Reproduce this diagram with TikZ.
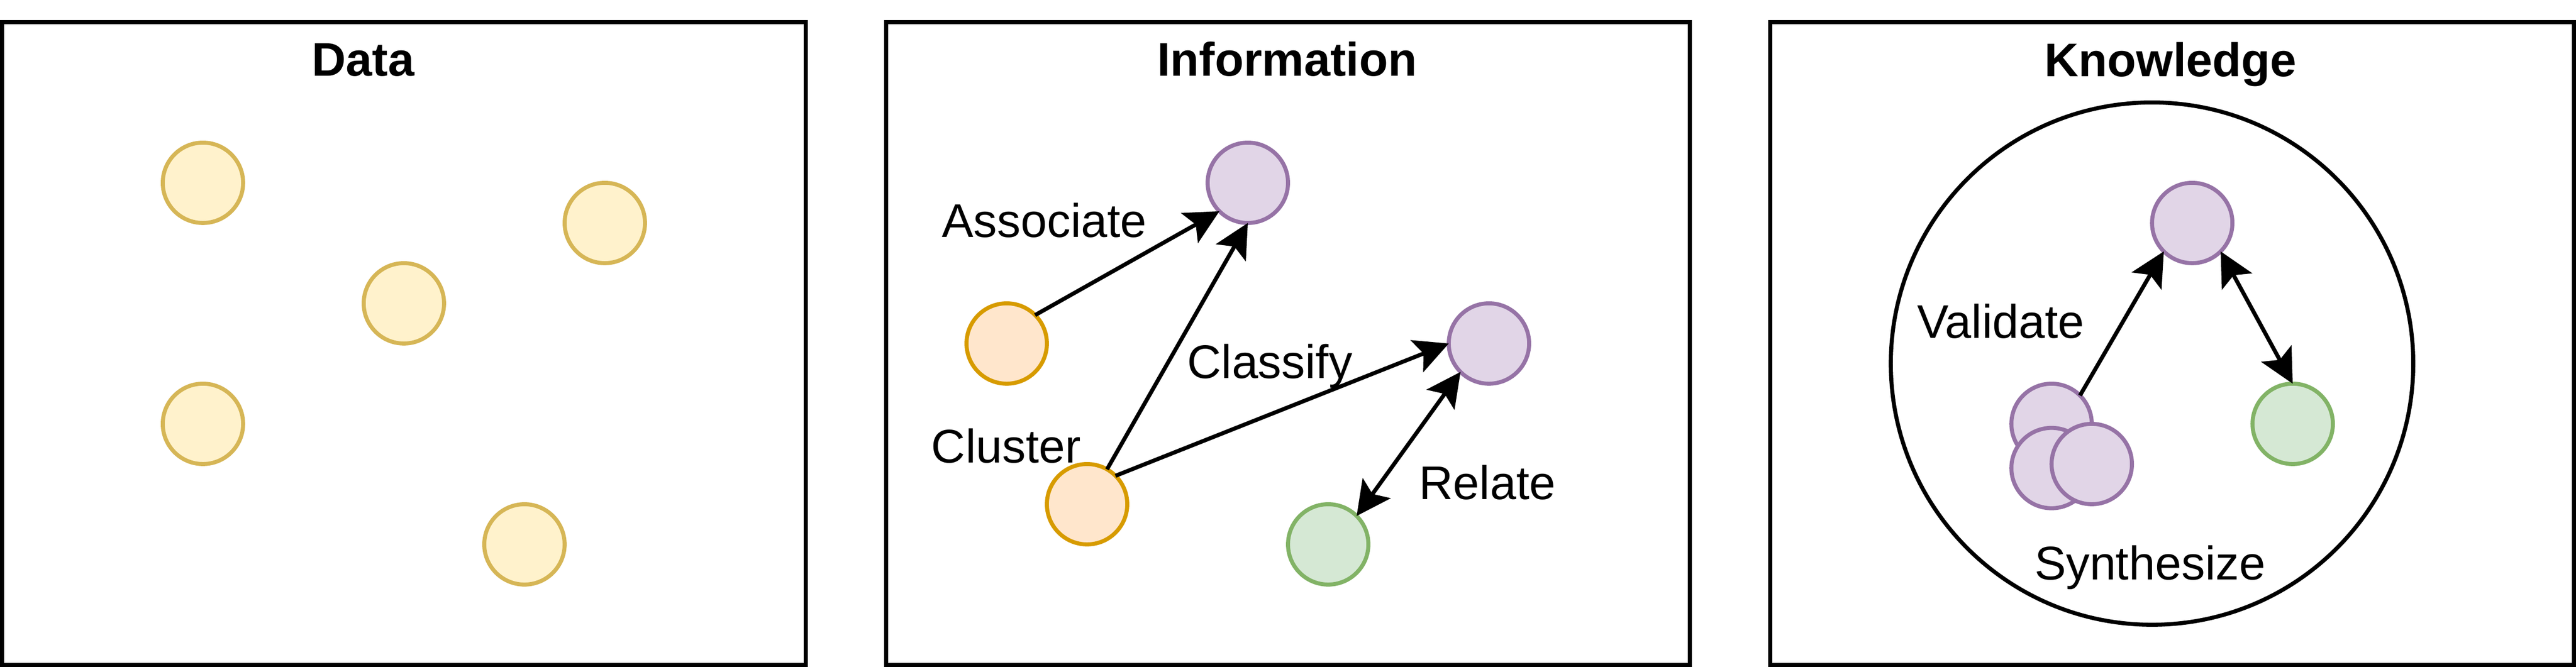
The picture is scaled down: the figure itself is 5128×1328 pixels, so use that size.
\documentclass[tikz,border=0pt]{standalone}
\usepackage{fontspec}
\setmainfont{Liberation Sans}
\usetikzlibrary{arrows.meta}
\definecolor{yfill}{HTML}{FFF2CC}
\definecolor{ydraw}{HTML}{D6B656}
\definecolor{ofill}{HTML}{FFE6CC}
\definecolor{odraw}{HTML}{D79B00}
\definecolor{pfill}{HTML}{E1D5E7}
\definecolor{pdraw}{HTML}{9673A6}
\definecolor{gfill}{HTML}{D5E8D4}
\definecolor{gdraw}{HTML}{82B366}
\tikzset{
  panel/.style={draw=black, line width=2pt, fill=white},
  dot/.style={circle, inner sep=0pt, outer sep=0pt, minimum size=40pt, line width=2pt},
  yel/.style={dot, draw=ydraw, fill=yfill},
  ora/.style={dot, draw=odraw, fill=ofill},
  pur/.style={dot, draw=pdraw, fill=pfill},
  grn/.style={dot, draw=gdraw, fill=gfill},
  ring/.style={circle, inner sep=0pt, outer sep=0pt, minimum size=260pt, draw=black, line width=2pt, fill=white},
  lbl/.style={anchor=base, inner sep=0pt, font=\fontsize{23.5}{28}\selectfont},
  ttl/.style={lbl, font=\fontsize{23.5}{28}\selectfont\bfseries},
  tip/.tip={Stealth[length=17pt,width=17pt,inset=3.5pt]},
  arr/.style={-tip, line width=2pt},
  arrd/.style={tip-tip, line width=2pt}
}
\begin{document}
\begin{tikzpicture}[x=0.25pt,y=-0.25pt]
\useasboundingbox (0,0) rectangle (5128,1328);
% panels
\draw[panel] (4,44) rectangle (1604,1324);
\draw[panel] (1764,44) rectangle (3364,1324);
\draw[panel] (3524,44) rectangle (5124,1324);
% titles
\node[ttl] (tdata) at (723,151) {Data};
\node[ttl] (tinfo) at (2562,151) {Information};
\node[ttl] (tknow) at (4321,152) {Knowledge};
% data
\node[yel] (d1) at (404,364) {};
\node[yel] (d2) at (1204,444) {};
\node[yel] (d3) at (804,604) {};
\node[yel] (d4) at (404,844) {};
\node[yel] (d5) at (1044,1084) {};
% information
\node[ora] (o1) at (2004,684) {};
\node[ora] (o2) at (2164,1004) {};
\node[pur] (p1) at (2484,364) {};
\node[pur] (p2) at (2964,684) {};
\node[grn] (g1) at (2644,1084) {};
\draw[arr] (o1.45) -- (p1.225);
\draw[arr] (o2) -- (p1.south);
\draw[arr] (o2.45) -- (p2.west);
\draw[arrd] (g1.45) -- (p2.225);
\node[lbl] (lassoc) at (2079,472) {Associate};
\node[lbl] (lclass) at (2528,753) {Classify};
\node[lbl] (lclust) at (2003,921) {Cluster};
\node[lbl] (lrel) at (2961,994) {Relate};
% knowledge
\node[ring] (kring) at (4284,724) {};
\node[pur] (kp) at (4364,444) {};
\node[grn] (kg) at (4564,844) {};
\node[pur] (k1) at (4084,844) {};
\node[pur] (k2) at (4084,932) {};
\node[pur] (k3) at (4164,924) {};
\draw[arr] (k1.45) -- (kp.225);
\draw[arrd] (kp.315) -- (kg.north);
\node[lbl] (lval) at (3983,673) {Validate};
\node[lbl] (lsyn) at (4280,1154) {Synthesize};
\end{tikzpicture}
\end{document}
